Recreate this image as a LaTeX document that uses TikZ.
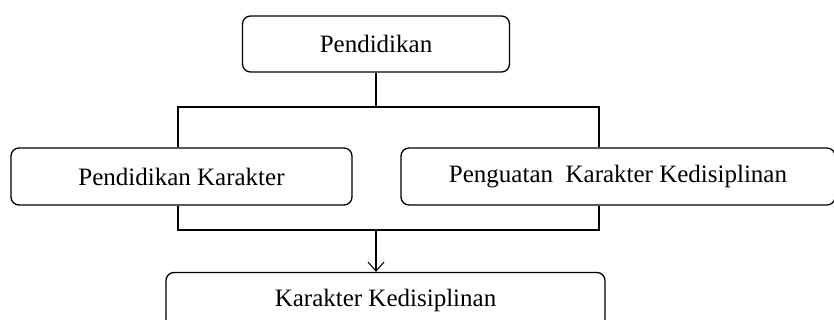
\documentclass[tikz,border=0pt]{standalone}
\usepackage{fontspec}
\setmainfont{Liberation Serif}
\usetikzlibrary{arrows.meta}

\begin{document}
\begin{tikzpicture}[x=1pt,y=-1pt,
  box/.style={draw,rounded corners=8pt,line width=1.3pt,inner sep=0pt,
    font=\fontsize{25}{30}\selectfont},
  line width=1.1pt]
 \useasboundingbox (0,0) rectangle (834,320);
 \clip (0,0) rectangle (834,320);
 \foreach \n/\x/\y/\w/\h/\t in
  {
    pend/376/44/267/56/Pendidikan,
    pkar/181.5/176.5/341/57/Pendidikan Karakter,
    pkk/618/176.5/434/57/Penguatan\ \ Karakter Kedisiplinan,
    kk/385.5/300/439/55/Karakter Kedisiplinan
  }
  {
    \node[box,minimum width=\w pt,minimum height=\h pt] (\n) at (\x,\y) {\t};
  }
 \coordinate (tl) at (178,107);
 \coordinate (tr) at (599,107);
 \coordinate (bl) at (178,230);
 \coordinate (br) at (599,230);
 \coordinate (bm) at (376,230);
 \draw (pend.south) -- (pend.south |- tl);
 \draw (pkar.north -| tl) -- (tl) -- (tr) -- (pkk.north -| tr);
 \draw (pkar.south -| bl) -- (bl) -- (br) -- (pkk.south -| br);
 \draw[-{Straight Barb[length=9pt,width=16pt]}] (bm) -- (kk.north -| bm);
\end{tikzpicture}
\end{document}
